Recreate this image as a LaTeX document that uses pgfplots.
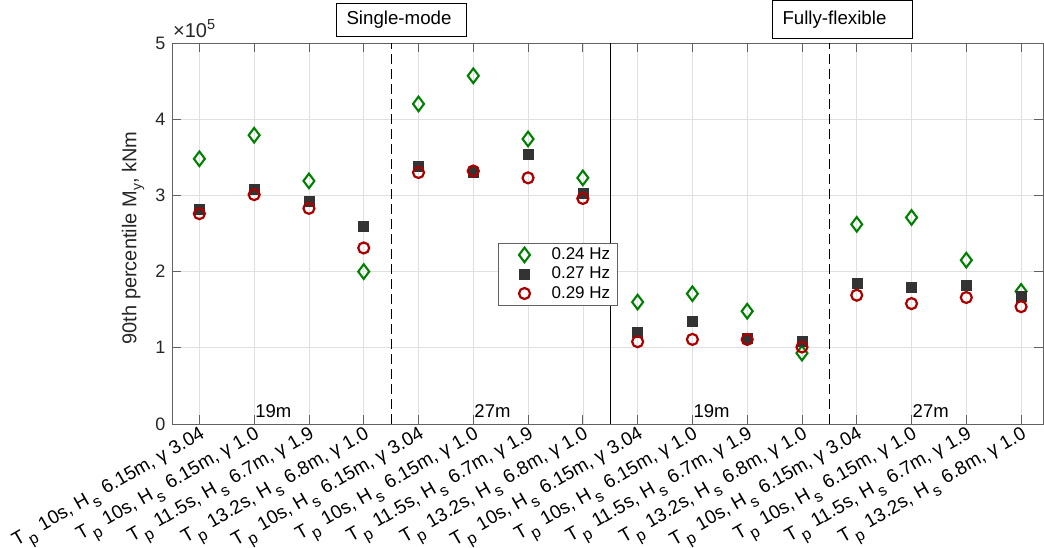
\documentclass[border=0pt]{standalone}
\usepackage{pgfplots}
\pgfplotsset{compat=1.18}
\usepackage{pgfplotstable}
\usepackage{fontspec}
\setmainfont{Liberation Sans}
\definecolor{cgreen}{rgb}{0,0.5,0}
\definecolor{cdark}{rgb}{0.2,0.2,0.2}
\definecolor{cred}{rgb}{0.67,0,0}
\definecolor{axgray}{rgb}{0.38,0.38,0.38}
\definecolor{tickgray}{rgb}{0.15,0.15,0.15}
\definecolor{gridgray}{rgb}{0.88,0.88,0.88}
\newcommand{\sub}[1]{\raisebox{-5bp}{\fontsize{14bp}{14bp}\selectfont #1}}
\newcommand{\subx}[1]{\hspace{2.5bp}\raisebox{-7bp}{\fontsize{16bp}{16bp}\selectfont #1}\hspace{2bp}}
\newcommand{\la}{T\subx{p} 10s, H\subx{s} 6.15m, γ 3.04}
\newcommand{\lb}{T\subx{p} 10s, H\subx{s} 6.15m, γ 1.0}
\newcommand{\lc}{T\subx{p} 11.5s, H\subx{s} 6.7m, γ 1.9}
\newcommand{\ld}{T\subx{p} 13.2s, H\subx{s} 6.8m, γ 1.0}
\pgfplotstableread{
x a b c
0 3.48 2.82 2.76
1 3.79 3.08 3.01
2 3.19 2.92 2.83
3 2.00 2.60 2.31
4 4.20 3.38 3.30
5 4.57 3.30 3.32
6 3.74 3.54 3.23
7 3.23 3.03 2.96
8 1.60 1.21 1.08
9 1.71 1.35 1.11
10 1.48 1.12 1.11
11 0.93 1.08 1.01
12 2.62 1.85 1.69
13 2.71 1.79 1.58
14 2.15 1.82 1.66
15 1.74 1.67 1.54
}\datatable
\begin{document}
\begin{tikzpicture}
\begin{axis}[
  name=ax,
  scale only axis,
  width=871bp, height=381bp,
  xmin=-0.5, xmax=15.4, ymin=0, ymax=5,
  xtick={0,...,15},
  xticklabels={{\la},{\lb},{\lc},{\ld},{\la},{\lb},{\lc},{\ld},{\la},{\lb},{\lc},{\ld},{\la},{\lb},{\lc},{\ld}},
  ytick={0,...,5},
  /pgf/number format/assume math mode=true,
  grid=major,
  major grid style={draw=gridgray, line width=0.6bp},
  axis line style={draw=axgray, line width=0.8bp},
  tick style={draw=axgray, line width=0.8bp},
  major tick length=9bp,
  tick align=inside,
  xticklabel style={rotate=30, anchor=north east, inner sep=1bp, font=\fontsize{19bp}{21bp}\selectfont, text=black},
  yticklabel style={font=\fontsize{18bp}{20bp}\selectfont, text=tickgray, xshift=-3bp},
  ylabel={90th percentile M\sub{y}, kNm},
  every axis y label/.style={at={(rel axis cs:-0.0448,0.488)}, rotate=90, anchor=center, font=\fontsize{20bp}{22bp}\selectfont, text=tickgray},
  clip=false,
  legend image code/.code={\path (0bp,-3bp) (36bp,3bp); \draw[#1] plot coordinates {(18bp,0bp)};},
  legend style={at={(0.3743,0.475)}, anchor=north west, draw=axgray, line width=0.8bp,
    font=\fontsize{17bp}{20bp}\selectfont, inner xsep=7bp, inner ysep=4bp,
    column sep=8bp, row sep=4.3bp,
    nodes={inner sep=0bp, text height=12bp, text depth=3bp}},
  legend cell align=left,
]
\addplot[only marks, mark=diamond, mark size=7.3bp, draw=cgreen, line width=2.1bp] table[x=x,y=a]{\datatable};
\addplot[only marks, mark=square*, mark size=5bp, draw=cdark, fill=cdark, line width=0.5bp] table[x=x,y=b]{\datatable};
\addplot[only marks, mark=o, mark size=5.5bp, draw=cred, line width=2.2bp] table[x=x,y=c]{\datatable};
\legend{0.24 Hz, 0.27 Hz, 0.29 Hz}
\draw[black, line width=1bp, dash pattern=on 10bp off 5bp] (axis cs:3.5,0) -- (axis cs:3.5,5);
\draw[black, line width=1bp] (axis cs:7.5,0) -- (axis cs:7.5,5);
\draw[black, line width=1bp, dash pattern=on 10bp off 5bp] (axis cs:11.5,0) -- (axis cs:11.5,5);
\node[anchor=base west, inner sep=0pt, font=\fontsize{18.5bp}{20bp}\selectfont] at ([shift={(1bp,6.5bp)}]axis cs:1,0) {19m};
\node[anchor=base west, inner sep=0pt, font=\fontsize{18.5bp}{20bp}\selectfont] at ([shift={(1bp,6.5bp)}]axis cs:5,0) {27m};
\node[anchor=base west, inner sep=0pt, font=\fontsize{18.5bp}{20bp}\selectfont] at ([shift={(1bp,6.5bp)}]axis cs:9,0) {19m};
\node[anchor=base west, inner sep=0pt, font=\fontsize{18.5bp}{20bp}\selectfont] at ([shift={(1bp,6.5bp)}]axis cs:13,0) {27m};
\end{axis}
\node[anchor=base west, inner sep=0pt, font=\fontsize{20bp}{22bp}\selectfont, text=tickgray] at ([shift={(1bp,5bp)}]ax.north west) {×10\raisebox{8bp}{\fontsize{14.5bp}{14bp}\selectfont 5}};
\node[draw=black, line width=1bp, anchor=north west, minimum width=130bp, minimum height=33bp, text width=110bp, inner xsep=10bp, align=left, font=\fontsize{18.7bp}{21bp}\selectfont] at ([shift={(164bp,40bp)}]ax.north west) {Single-mode};
\node[draw=black, line width=1bp, anchor=north west, minimum width=140bp, minimum height=38bp, text width=120bp, inner xsep=10bp, align=left, font=\fontsize{18.7bp}{21bp}\selectfont] at ([shift={(600bp,42.5bp)}]ax.north west) {Fully-flexible};
\pgfresetboundingbox
\path[use as bounding box] ([shift={(-172bp,-124bp)}]ax.south west) rectangle ([shift={(1bp,43bp)}]ax.north east);
\end{tikzpicture}
\end{document}
